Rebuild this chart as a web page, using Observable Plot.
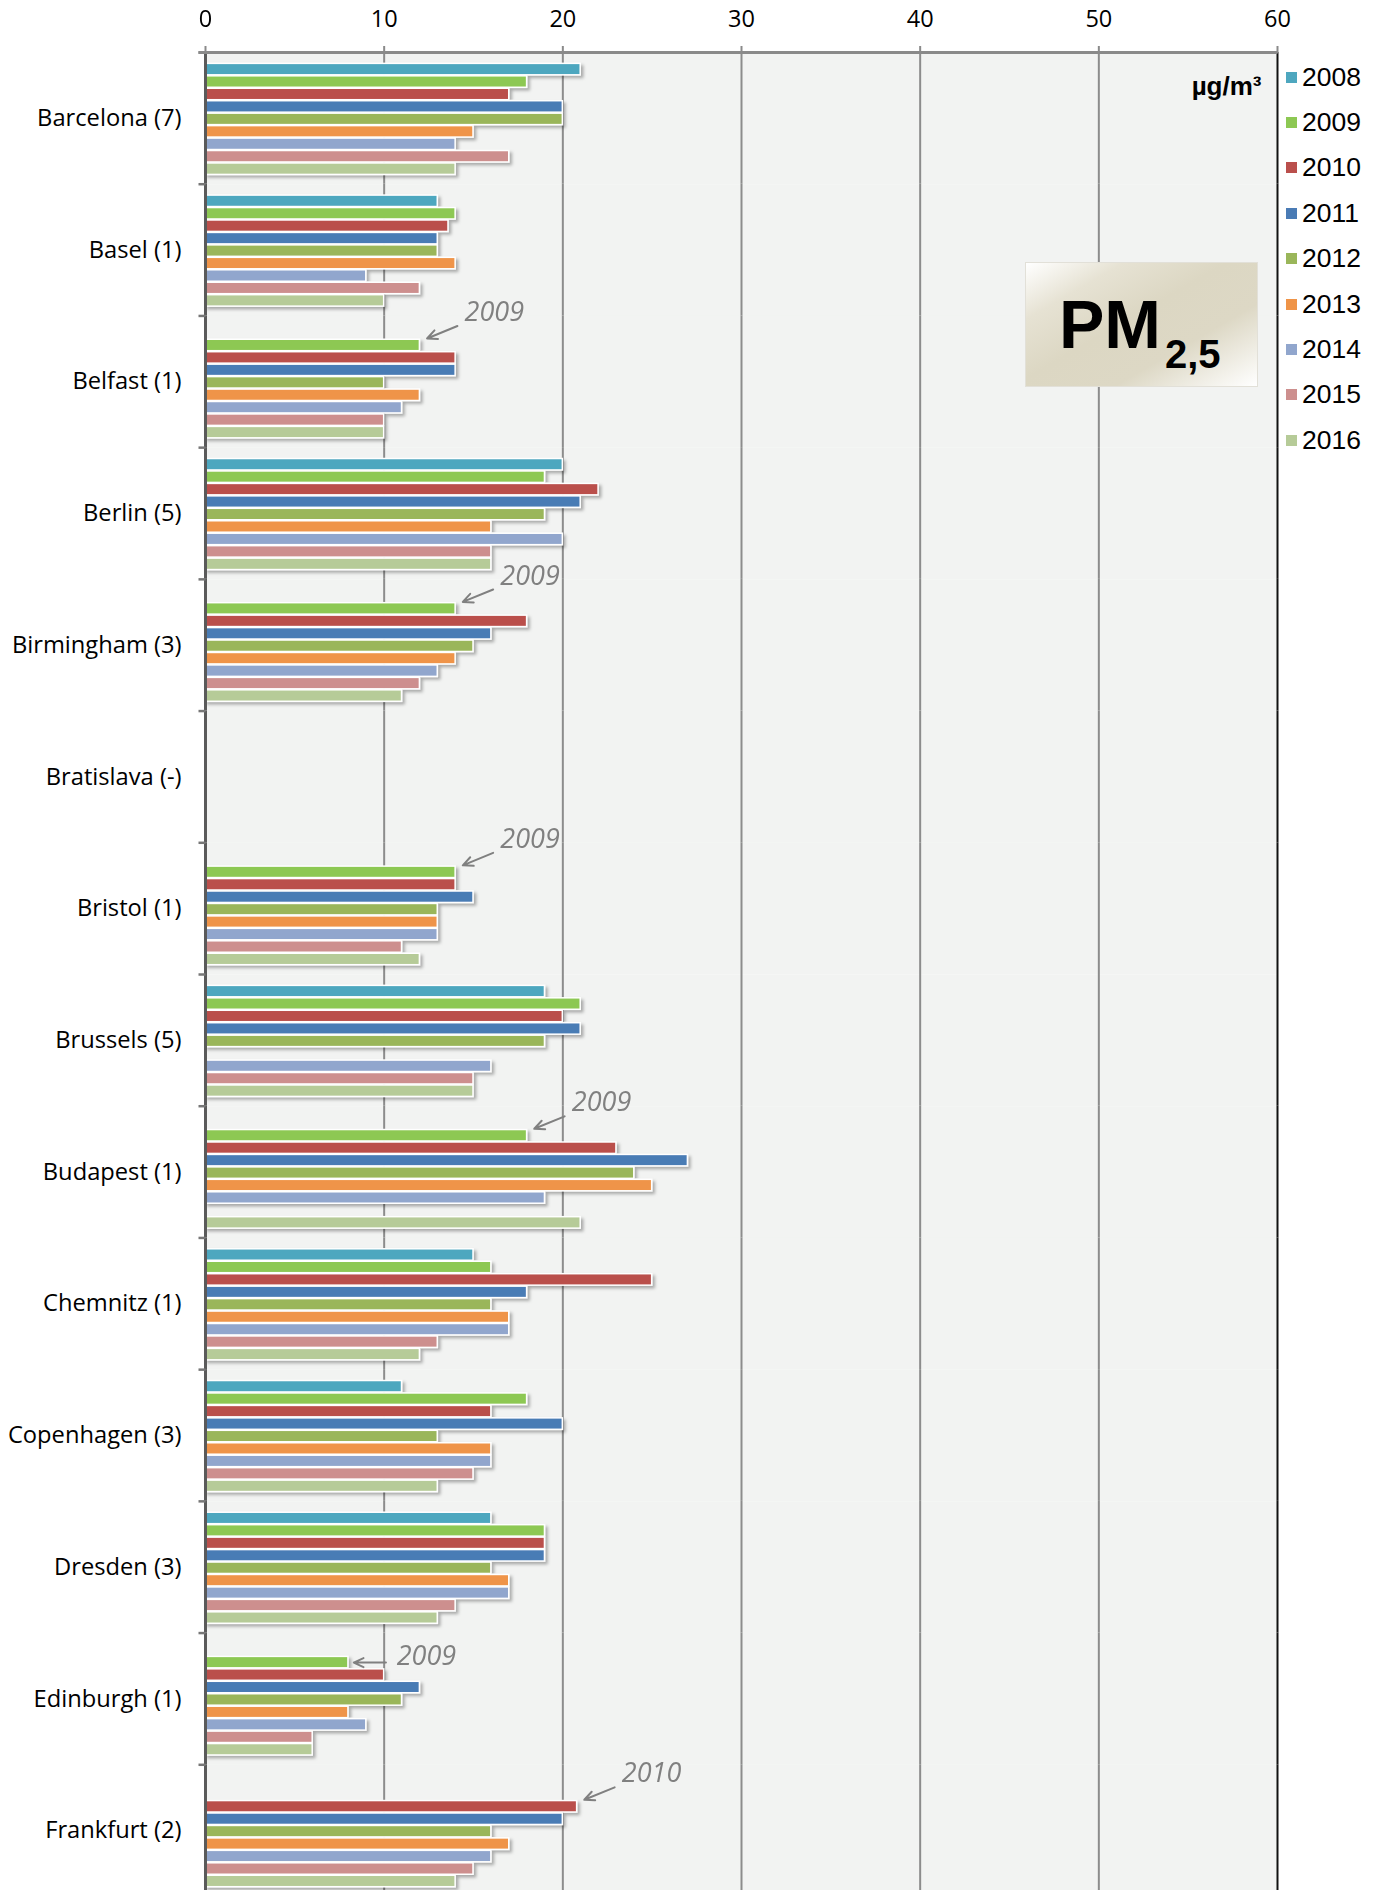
<!DOCTYPE html>
<html>
<head>
<meta charset="utf-8">
<script src="https://cdn.jsdelivr.net/npm/d3@7"></script>
<script src="https://cdn.jsdelivr.net/npm/@observablehq/plot@0.6"></script>
<style>
  html, body { margin: 0; padding: 0; background: #fff; }
  body { width: 1384px; height: 1890px; overflow: hidden; position: relative; }
  #chart { position: absolute; left: 0; top: 0; }
  .legend { position: absolute; left: 0; top: 0; font-family: "Liberation Sans", Arial, sans-serif; font-size: 26.5px; color: #000; }
  .legend .item { position: absolute; left: 1286px; height: 30px; display: flex; align-items: center; }
  .legend .sw { width: 11px; height: 11px; margin-right: 5px; }
  .pm { position: absolute; left: 1025px; top: 262px; width: 233px; height: 125px; box-sizing: border-box;
        border: 1px solid #e2e0d8;
        background: linear-gradient(150deg, #ffffff 0%, #e6e2d3 22%, #dcd7c3 45%, #ddd8c5 68%, #ffffff 100%);
        font-family: "Liberation Sans", Arial, sans-serif; font-weight: bold; color: #000; }
  .pm .t { position: absolute; left: 33px; top: 27px; font-size: 68px; line-height: 1; white-space: nowrap; }
  .pm .t .s { font-size: 40px; position: relative; top: 20px; margin-left: 4px; }
</style>
</head>
<body>
<div id="chart"></div>
<script>
// ---- data ----
const cities = ["Barcelona (7)", "Basel (1)", "Belfast (1)", "Berlin (5)", "Birmingham (3)", "Bratislava (-)",
  "Bristol (1)", "Brussels (5)", "Budapest (1)", "Chemnitz (1)", "Copenhagen (3)", "Dresden (3)",
  "Edinburgh (1)", "Frankfurt (2)"];
const years = ["2008", "2009", "2010", "2011", "2012", "2013", "2014", "2015", "2016"];
const colors = ["#4EA7BF", "#8DC853", "#BA4F4C", "#4A7BB5", "#9AB65A", "#EF9448", "#91A6CD", "#CD8F8E", "#B6CB98"];
const xTicks = [0, 10, 20, 30, 40, 50, 60];

const v2008 = [21, 13, null, 20, null, null, null, 19, null, 15, 11, 16, null, null];
const v2009 = [18, 14, 12, 19, 14, null, 14, 21, 18, 16, 18, 19, 8, null];
const v2010 = [17, 13.6, 14, 22, 18, null, 14, 20, 23, 25, 16, 19, 10, 20.8];
const v2011 = [20, 13, 14, 21, 16, null, 15, 21, 27, 18, 20, 19, 12, 20];
const v2012 = [20, 13, 10, 19, 15, null, 13, 19, 24, 16, 13, 16, 11, 16];
const v2013 = [15, 14, 12, 16, 14, null, 13, null, 25, 17, 16, 17, 8, 17];
const v2014 = [14, 9, 11, 20, 13, null, 13, 16, 19, 17, 16, 17, 9, 16];
const v2015 = [17, 12, 10, 16, 12, null, 11, 15, null, 13, 15, 14, 6, 15];
const v2016 = [14, 10, 10, 16, 11, null, 12, 15, 21, 12, 13, 13, 6, 14];

// first year with data, marked by an arrow
const annCities = ["Belfast (1)", "Birmingham (3)", "Bristol (1)", "Budapest (1)", "Edinburgh (1)", "Frankfurt (2)"];
const annYears = ["2009", "2009", "2009", "2009", "2009", "2010"];
const annFlat = ["Edinburgh (1)"];

const unitLabel = "µg/m³";

// ---- build ----
const series = [v2008, v2009, v2010, v2011, v2012, v2013, v2014, v2015, v2016];
const rows = years.flatMap((yr, j) => cities.map((c, i) => ({city: c, year: yr, value: series[j][i]})))
  .filter(d => d.value != null);
const valueOf = (c, y) => series[years.indexOf(y)][cities.indexOf(c)];
const ann = annCities.map((c, i) => ({city: c, year: annYears[i], label: annYears[i],
  value: valueOf(c, annYears[i]), prev: years[years.indexOf(annYears[i]) - 1], flat: annFlat.includes(c)}));
const annDiag = ann.filter(d => !d.flat);
const annFlatRows = ann.filter(d => d.flat);

const W = 1384, H = 1896, mL = 205, mR = 107, mT = 52;
const tickSym = {draw(ctx) { ctx.moveTo(-7, 0); ctx.lineTo(0, 0); }};
const topLineSym = {draw(ctx) { ctx.moveTo(-7, 0); ctx.lineTo(W - mL - mR, 0); }};

const plot = Plot.plot({
  width: W, height: H,
  marginLeft: mL, marginRight: mR, marginTop: mT, marginBottom: 0,
  style: {fontFamily: "'Open Sans', sans-serif", background: "transparent", overflow: "visible"},
  x: {domain: [0, 60], axis: null},
  y: {domain: years, paddingInner: 0.08, paddingOuter: 0.83, align: 0.55, round: false, axis: null},
  fy: {domain: cities, padding: 0, round: false, axis: null},
  color: {domain: years, range: colors},
  marks: [
    Plot.frame({fill: "#f2f3f2", stroke: null}),
    Plot.gridX(xTicks.filter(t => t > 0 && t < 60), {stroke: "#8c8c8c", strokeOpacity: 1, strokeWidth: 2}),
    Plot.ruleX([60], {stroke: "#111", strokeWidth: 2}),
    Plot.barX(rows, {fy: "city", y: "year", x: "value", fill: "year", stroke: "#fff", strokeWidth: 1.5}),
    Plot.ruleX([0], {stroke: "#5a5a5a", strokeWidth: 3}),
    Plot.dot(cities, {fy: d => d, frameAnchor: "top-left", symbol: tickSym, fill: "none", stroke: "#777", strokeWidth: 2.5}),
    Plot.dot([cities[0]], {fy: d => d, frameAnchor: "top-left", symbol: topLineSym, fill: "none", stroke: "#8a8a8a", strokeWidth: 3}),
    Plot.axisX(xTicks, {anchor: "top", tickSize: 7, tickPadding: 19, stroke: "#8a8a8a", strokeWidth: 2, fontSize: 23.5, fill: "#000", label: null}),
    Plot.axisFy({anchor: "left", tickSize: 0, tickPadding: 24, fontSize: 23.7, fill: "#000", label: null}),
    Plot.text([unitLabel], {fy: () => cities[0], frameAnchor: "top-right", text: d => d, dx: -16, dy: 34, lineAnchor: "middle",
      textAnchor: "end", fontWeight: "bold", fontSize: 26, fontFamily: "'Liberation Sans', Arial, sans-serif", fill: "#000"}),
    Plot.arrow(annDiag, {fy: "city", x1: d => d.value + 2.1, y1: "prev", x2: d => d.value + 0.4, y2: "year", dy: -7,
      stroke: "#808080", strokeWidth: 2, headLength: 12, headAngle: 50, bend: 0}),
    Plot.arrow(annFlatRows, {fy: "city", x1: d => d.value + 2.1, y1: "year", x2: d => d.value + 0.3, y2: "year", dy: 0,
      stroke: "#808080", strokeWidth: 2, headLength: 12, headAngle: 50, bend: 0}),
    Plot.text(annDiag, {fy: "city", x: d => d.value + 2.5, y: "year", dy: -33, text: "label", textAnchor: "start",
      fontStyle: "italic", fontSize: 27, fill: "#808080"}),
    Plot.text(annFlatRows, {fy: "city", x: d => d.value + 2.7, y: "year", dy: -6, text: "label", textAnchor: "start",
      fontStyle: "italic", fontSize: 27, fill: "#808080"})
  ]
});

// soft drop shadow on bars
const svg = d3.select(plot.tagName === "svg" ? plot : plot.querySelector("svg"));
const defs = svg.insert("defs", ":first-child");
const f = defs.append("filter").attr("id", "barShadow").attr("x", "-5%").attr("y", "-50%").attr("width", "115%").attr("height", "250%");
f.append("feDropShadow").attr("dx", 2.5).attr("dy", 2.5).attr("stdDeviation", 1.5).attr("flood-color", "#000").attr("flood-opacity", 0.3);
svg.selectAll('g[aria-label="bar"]').attr("filter", "url(#barShadow)");

document.getElementById("chart").appendChild(plot);

// legend (vertical, right of the plot)
const color = plot.scale("color");
const lg = d3.select("body").append("div").attr("class", "legend");
years.forEach((yr, i) => {
  const it = lg.append("div").attr("class", "item").style("top", (77 + i * 45.4 - 15) + "px");
  it.append("div").attr("class", "sw").style("background", color.apply(yr));
  it.append("span").text(yr);
});

// PM2,5 label box
const pm = d3.select("body").append("div").attr("class", "pm");
const t = pm.append("div").attr("class", "t");
t.append("span").text("PM");
t.append("span").attr("class", "s").text("2,5");
</script>
</body>
</html>
